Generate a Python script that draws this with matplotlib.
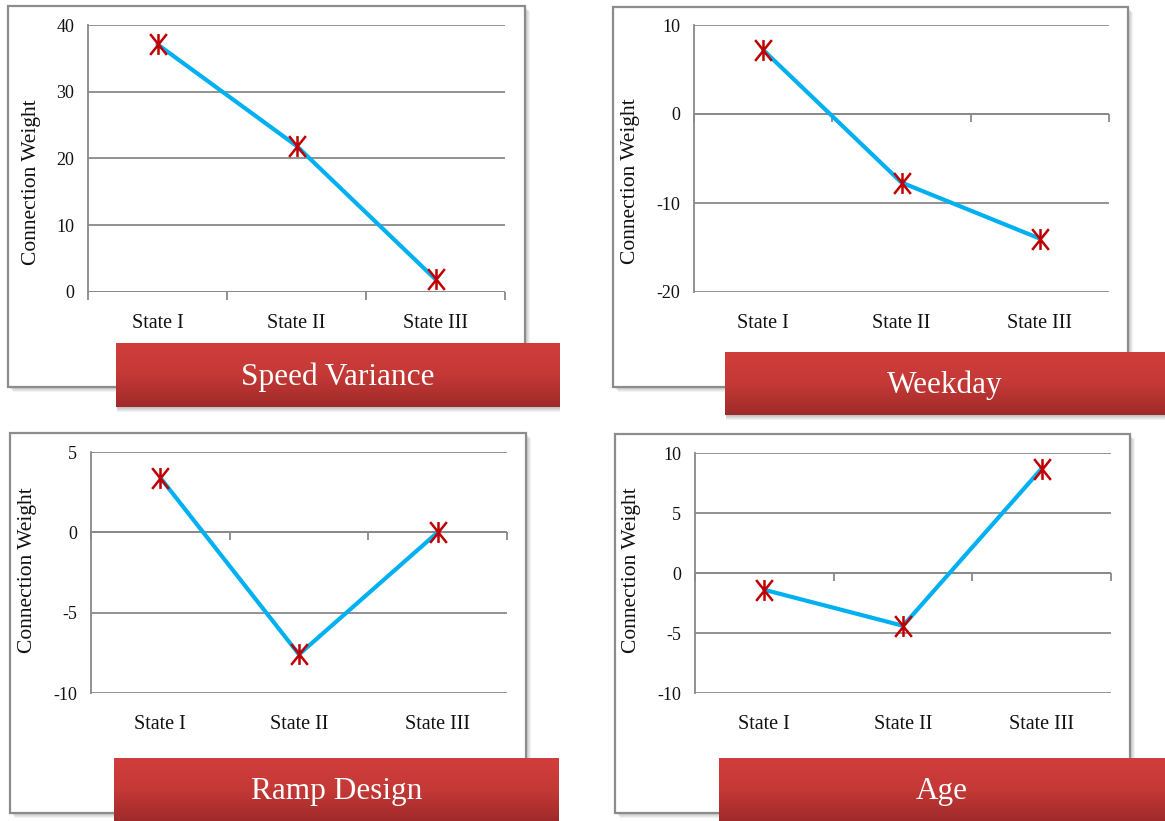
import numpy as np
import matplotlib
matplotlib.use('Agg')
import matplotlib.pyplot as plt
from matplotlib.patches import Rectangle
from matplotlib.path import Path
from matplotlib.colors import LinearSegmentedColormap

plt.rcParams['font.family'] = ['Liberation Serif', 'DejaVu Serif']
plt.rcParams['axes.unicode_minus'] = False

W, H = 1165, 821

# data
categories = ['State I', 'State II', 'State III']
speed_variance = [37.1, 21.9, 1.9]
weekday = [7.2, -7.7, -14.0]
ramp_design = [3.4, -7.6, 0.0]
age = [-1.4, -4.4, 8.7]

titles = ['Speed Variance', 'Weekday', 'Ramp Design', 'Age']
series = [speed_variance, weekday, ramp_design, age]
y_limits = [(0, 40), (-20, 10), (-10, 5), (-10, 10)]
y_steps = [10, 10, 5, 5]

# pixel layout (x0, y0, x1, y1), measured from the top-left corner
frames = [(8, 6, 525, 387), (613, 7, 1128, 387), (10, 433, 526, 813), (615, 434, 1130, 813)]
plots = [(88, 25, 505, 292), (694, 25, 1109, 292), (91, 452, 507, 693), (695, 453, 1111, 693)]
banners = [(116, 343, 560, 407), (725, 352, 1165, 415), (114, 758, 559, 821), (719, 758, 1165, 821)]
ylabel_pos = [(32, 182), (630, 181), (28, 570), (632, 570)]

grey = '#898989'
line_blue = '#00B0F0'
mark_red = '#C00000'


def fig_rect(x0, y0, x1, y1):
    return [x0 / W, 1 - y1 / H, (x1 - x0) / W, (y1 - y0) / H]


# asterisk marker without the horizontal stroke
star = Path([(-0.8, -1), (0.8, 1), (-0.8, 1), (0.8, -1), (0, -1), (0, 1)],
            [Path.MOVETO, Path.LINETO] * 3)

banner_cmap = LinearSegmentedColormap.from_list('banner', ['#9F2A2A', '#C43936', '#D03E3B'])
grad = np.linspace(0, 1, 256).reshape(-1, 1)

fig = plt.figure(figsize=(W / 100, H / 100), dpi=100)

for i in range(4):
    # frame with a soft shadow
    fx0, fy0, fx1, fy1 = frames[i]
    for k in range(1, 6):
        r = fig_rect(fx0 + k, fy0 + k, fx1 + k, fy1 + k)
        fig.add_artist(Rectangle((r[0], r[1]), r[2], r[3], transform=fig.transFigure,
                                 facecolor='black', edgecolor='none', alpha=0.05, zorder=-3))
    r = fig_rect(*frames[i])
    fig.add_artist(Rectangle((r[0], r[1]), r[2], r[3], transform=fig.transFigure,
                             facecolor='white', edgecolor='#8C8C8C', lw=1.6, zorder=-1))

    ax = fig.add_axes(fig_rect(*plots[i]))
    ax.set_facecolor('none')
    x = np.arange(len(categories))
    lo, hi = y_limits[i]
    ax.set_xlim(-0.5, len(categories) - 0.5)
    ax.set_ylim(lo, hi)
    ax.set_yticks(np.arange(lo, hi + y_steps[i], y_steps[i]))
    ax.yaxis.grid(True, color=grey, lw=1.3)
    ax.set_axisbelow(True)
    for s in ['top', 'right', 'bottom']:
        ax.spines[s].set_visible(False)
    ax.spines['left'].set_color(grey)
    ax.spines['left'].set_linewidth(1.3)
    ax.tick_params(axis='y', length=0, pad=10, labelsize=13, labelcolor='#111111')
    ax.set_xticks(x, categories)
    ax.tick_params(axis='x', length=0, pad=15.5, labelsize=14.5, labelcolor='#111111')

    # category axis sits at zero, with tick marks between categories
    bounds = np.arange(len(categories) + 1) - 0.5
    ax.axhline(0, color=grey, lw=1.3, zorder=1)
    ax.plot(bounds, np.zeros_like(bounds), ls='none', marker=3, ms=6, mew=1.3,
            color=grey, clip_on=False, zorder=1)

    ax.plot(x, series[i], color=line_blue, lw=3, zorder=3, solid_capstyle='round')
    ax.plot(x, series[i], ls='none', marker=star, ms=15, mew=1.8, color=mark_red,
            zorder=4, clip_on=False)

    lx, ly = ylabel_pos[i]
    fig.text(lx / W, 1 - ly / H, 'Connection Weight', rotation=90, fontsize=15.5,
             ha='center', va='center', color='#111111')

    # red title banner with shadow
    bx0, by0, bx1, by1 = banners[i]
    for k in range(1, 6):
        r = fig_rect(bx0 + 1, by0 + k, bx1, by1 + k)
        fig.add_artist(Rectangle((r[0], r[1]), r[2], r[3], transform=fig.transFigure,
                                 facecolor='black', edgecolor='none', alpha=0.05, zorder=4))
    bax = fig.add_axes(fig_rect(*banners[i]), zorder=5)
    bax.imshow(grad, aspect='auto', cmap=banner_cmap, origin='lower', extent=(0, 1, 0, 1))
    bax.set_axis_off()
    bax.text(0.5, 0.47, titles[i], color='white', fontsize=22.5, ha='center',
             va='center', transform=bax.transAxes)

fig.savefig('out.png', dpi=100)
